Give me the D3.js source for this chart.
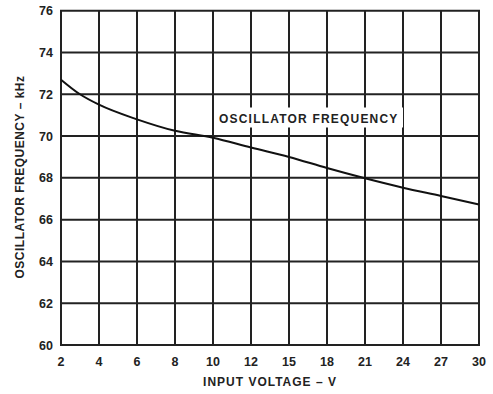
<!DOCTYPE html>
<html>
<head>
<meta charset="utf-8">
<script src="https://cdn.jsdelivr.net/npm/d3@7"></script>
<style>
html,body{margin:0;padding:0;background:#fff;}
svg{display:block;}
text{font-family:"Liberation Sans",Arial,sans-serif;font-weight:bold;fill:#222;}
</style>
</head>
<body>
<script>
// Data
const xTicks = [2,4,6,8,10,12,15,18,21,24,27,30];
const yTicks = [60,62,64,66,68,70,72,74,76];
const voltage = [2,3,4,6,8,10,12,15,18,21,24,27,30];
const frequency = [72.7,72.0,71.5,70.8,70.25,69.92,69.45,69.0,68.47,67.98,67.53,67.13,66.72];
const xTitle = "INPUT VOLTAGE – V";
const yTitle = "OSCILLATOR FREQUENCY – kHz";
const curveLabel = "OSCILLATOR FREQUENCY";

(function () {
const W = 493, H = 394;
const pLeft = 61, pRight = 479, pTop = 10.7, pBottom = 345;
const step = (pRight - pLeft) / (xTicks.length - 1);

const svg = d3.select("body").append("svg").attr("width", W).attr("height", H);

// Axis positions are evenly spaced even though the values are not
const x = d3.scaleLinear().domain(xTicks).range(xTicks.map((d, i) => pLeft + i * step));
const y = d3.scaleLinear().domain([60, 76]).range([pBottom, pTop]);

const grid = svg.append("g").attr("stroke", "#222").attr("stroke-width", 2);
grid.selectAll("line.v").data(xTicks).enter().append("line")
  .attr("x1", d => x(d)).attr("x2", d => x(d))
  .attr("y1", pTop).attr("y2", pBottom);
grid.selectAll("line.h").data(yTicks).enter().append("line")
  .attr("x1", pLeft - 1).attr("x2", pRight + 1)
  .attr("y1", d => y(d)).attr("y2", d => y(d));

// label background
const lblX = 219, lblY = 122.5;
svg.append("rect").attr("x", lblX - 2).attr("y", lblY - 15).attr("width", 186).attr("height", 20).attr("fill", "#fff");
svg.append("text").attr("x", lblX).attr("y", lblY).attr("font-size", 12)
  .attr("letter-spacing", 1.2).text(curveLabel);

// curve
const line = d3.line().x((d, i) => x(voltage[i])).y(d => y(d)).curve(d3.curveMonotoneX);
svg.append("path").datum(frequency).attr("d", line)
  .attr("fill", "none").attr("stroke", "#111").attr("stroke-width", 2);

// tick labels
svg.selectAll("text.yt").data(yTicks).enter().append("text")
  .attr("x", 53).attr("y", d => y(d) + 4.5).attr("text-anchor", "end")
  .attr("font-size", 12.5).text(d => d);
svg.selectAll("text.xt").data(xTicks).enter().append("text")
  .attr("x", d => x(d)).attr("y", 366).attr("text-anchor", "middle")
  .attr("font-size", 12.5).text(d => d);

// titles
svg.append("text").attr("x", 270).attr("y", 386).attr("text-anchor", "middle")
  .attr("font-size", 12).attr("letter-spacing", 1).text(xTitle);
svg.append("text").attr("transform", "translate(24,177) rotate(-90)")
  .attr("text-anchor", "middle").attr("font-size", 12).attr("letter-spacing", 0.5).text(yTitle);
})();
</script>
</body>
</html>
